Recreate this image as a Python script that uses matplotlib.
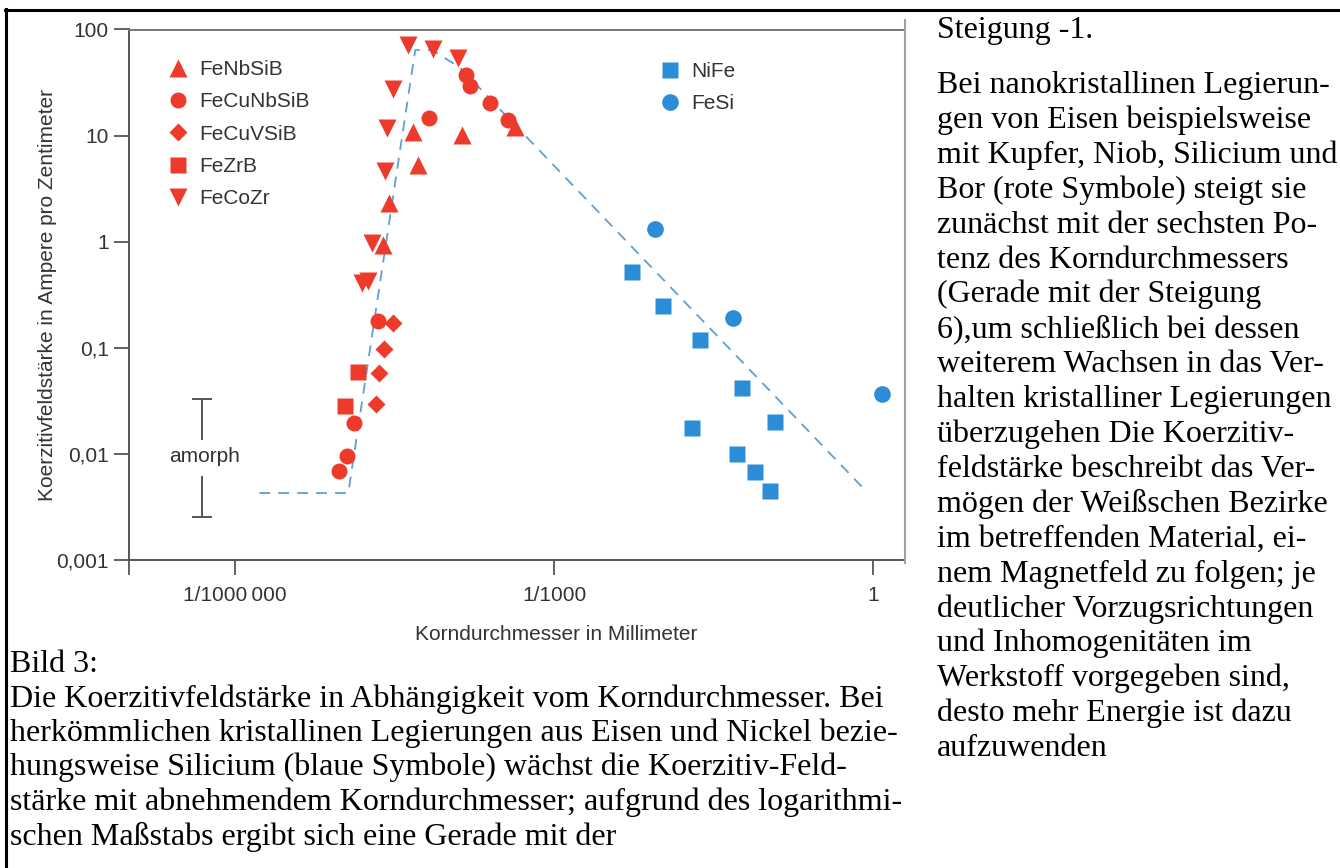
import matplotlib
matplotlib.use('Agg')
import matplotlib.pyplot as plt
from matplotlib.lines import Line2D
from matplotlib.ticker import NullLocator, FixedLocator, FixedFormatter

# ---------------- data ----------------
fenbsib_x = [2.47e-5, 2.81e-5, 4.72e-5, 5.26e-5, 1.36e-4, 4.30e-4]
fenbsib_y = [0.93, 2.32, 10.8, 5.28, 10.1, 12.1]

fecunbsib_x = [6.67e-5, 1.49e-4, 1.62e-4, 2.50e-4, 3.69e-4, 2.21e-5, 1.31e-5, 1.13e-5, 9.5e-6]
fecunbsib_y = [14.7, 37.3, 29.3, 20.3, 14.0, 0.179, 0.0195, 0.00955, 0.0069]

fecuvsib_x = [3.06e-5, 2.52e-5, 2.26e-5, 2.12e-5]
fecuvsib_y = [0.171, 0.0975, 0.0579, 0.0295]

fezrb_x = [1.44e-5, 1.08e-5]
fezrb_y = [0.0591, 0.0283]

fecozr_x = [4.24e-5, 7.28e-5, 1.25e-4, 3.06e-5, 2.69e-5, 2.58e-5, 1.94e-5, 1.56e-5, 1.78e-5]
fecozr_y = [71.4, 65.5, 53.9, 27.5, 11.8, 4.64, 0.97, 0.408, 0.426]

nife_x = [5.42e-3, 0.0106, 0.0236, 0.0586, 0.120, 0.0199, 0.0526, 0.0776, 0.107]
nife_y = [0.518, 0.248, 0.118, 0.0418, 0.0200, 0.0175, 0.00998, 0.00675, 0.00447]

fesi_x = [8.91e-3, 0.0483, 1.22]
fesi_y = [1.32, 0.191, 0.0367]

# guide line (dashed)
guide_x = [1.68e-6, 1.156e-5, 4.93e-5, 7.13e-5, 1.31e-4, 0.789]
guide_y = [0.00428, 0.00428, 64.1, 64.1, 43.4, 0.00488]

# "amorph" range marker
amorph_x = 4.9e-7
amorph_upper = [0.0138, 0.0329]
amorph_lower = [0.00254, 0.00606]

x_ticks = [1e-7, 1e-6, 1e-3, 1.0]
x_ticklabels = ['', '1/1000\u2009000', '1/1000', '1']
y_ticks = [1e-3, 1e-2, 1e-1, 1, 10, 100]
y_ticklabels = ['0,001', '0,01', '0,1', '1', '10', '100']

right_lines = [
    "Bei nanokristallinen Legierun-",
    "gen von Eisen beispielsweise",
    "mit Kupfer, Niob, Silicium und",
    "Bor (rote Symbole) steigt sie",
    "zunächst mit der sechsten Po-",
    "tenz des Korndurchmessers",
    "(Gerade mit der Steigung",
    "6),um schließlich bei dessen",
    "weiterem Wachsen in das Ver-",
    "halten kristalliner Legierungen",
    "überzugehen Die Koerzitiv-",
    "feldstärke beschreibt das Ver-",
    "mögen der Weißschen Bezirke",
    "im betreffenden Material, ei-",
    "nem Magnetfeld zu folgen; je",
    "deutlicher Vorzugsrichtungen",
    "und Inhomogenitäten im",
    "Werkstoff vorgegeben sind,",
    "desto mehr Energie ist dazu",
    "aufzuwenden",
]
caption_lines = [
    "Bild 3:",
    "Die Koerzitivfeldstärke in Abhängigkeit vom Korndurchmesser. Bei",
    "herkömmlichen kristallinen Legierungen aus Eisen und Nickel bezie-",
    "hungsweise Silicium (blaue Symbole) wächst die Koerzitiv-Feld-",
    "stärke mit abnehmendem Korndurchmesser; aufgrund des logarithmi-",
    "schen Maßstabs ergibt sich eine Gerade mit der",
]

# ---------------- styling ----------------
RED = '#ee3a2b'
BLUE = '#2b8dd8'
GUIDE = '#5d9fd6'
AXC = '#555555'
TXT = '#333333'
SANS = ['Liberation Sans', 'DejaVu Sans']
SERIF = ['Liberation Serif', 'DejaVu Serif']

plt.rcParams['font.family'] = SANS

W, H = 1340, 868
fig = plt.figure(figsize=(W / 100, H / 100), dpi=100)
fig.patch.set_facecolor('white')

def fx(px):
    return px / W

def fy(py):
    return 1 - py / H

ax = fig.add_axes([fx(129), fy(560), (903 - 129) / W, (560 - 29.5) / H])
ax.set_xscale('log')
ax.set_yscale('log')
ax.set_xlim(1e-7, 10 ** 0.282)
ax.set_ylim(1e-3, 100)

ax.plot(guide_x, guide_y, color=GUIDE, lw=1.3, dashes=(6, 4.5), zorder=1)

red_handles = []
for xs, ys, m, ms, name in [
    (fenbsib_x, fenbsib_y, '^', 13, 'FeNbSiB'),
    (fecunbsib_x, fecunbsib_y, 'o', 11.5, 'FeCuNbSiB'),
    (fecuvsib_x, fecuvsib_y, 'D', 9.5, 'FeCuVSiB'),
    (fezrb_x, fezrb_y, 's', 11, 'FeZrB'),
    (fecozr_x, fecozr_y, 'v', 13, 'FeCoZr'),
]:
    h, = ax.plot(xs, ys, ls='none', marker=m, ms=ms, color=RED, mec='none',
                 label=name, zorder=3)
    red_handles.append(h)

blue_handles = []
for xs, ys, m, ms, name in [
    (nife_x, nife_y, 's', 11, 'NiFe'),
    (fesi_x, fesi_y, 'o', 12, 'FeSi'),
]:
    h, = ax.plot(xs, ys, ls='none', marker=m, ms=ms, color=BLUE, mec='none',
                 label=name, zorder=3)
    blue_handles.append(h)

# amorph range bars
ax.plot([amorph_x] * 2, amorph_upper, color=AXC, lw=1.4)
ax.plot([amorph_x] * 2, amorph_lower, color=AXC, lw=1.4)
ax.plot([amorph_x], [amorph_upper[1]], marker='_', ms=14, mew=1.4, color=AXC)
ax.plot([amorph_x], [amorph_lower[0]], marker='_', ms=14, mew=1.4, color=AXC)
ax.text(10 ** -6.29, 10 ** -2.029, 'amorph', ha='center', va='center',
        fontsize=15, color=TXT)

# axes styling
for side in ['left', 'bottom', 'top']:
    ax.spines[side].set_color(AXC)
    ax.spines[side].set_linewidth(1.4)
ax.spines['top'].set_color('#777777')
ax.spines['right'].set_visible(False)

ax.xaxis.set_major_locator(FixedLocator(x_ticks))
ax.xaxis.set_major_formatter(FixedFormatter(x_ticklabels))
ax.yaxis.set_major_locator(FixedLocator(y_ticks))
ax.yaxis.set_major_formatter(FixedFormatter(y_ticklabels))
ax.xaxis.set_minor_locator(NullLocator())
ax.yaxis.set_minor_locator(NullLocator())
ax.tick_params(axis='both', direction='out', length=11, width=1.3, color=AXC,
               labelsize=15, labelcolor=TXT)
ax.tick_params(axis='y', pad=3.5)
ax.tick_params(axis='x', pad=8)

ax.set_xlabel('Korndurchmesser in Millimeter', fontsize=15, color=TXT)
ax.xaxis.label.set_va('center')
ax.xaxis.set_label_coords((556 - 129) / (903 - 129), (560 - 634) / (560 - 29.5))
ax.set_ylabel('Koerzitivfeldstärke in Ampere pro Zentimeter', fontsize=15, color=TXT)
ax.yaxis.label.set_va('center')
ax.yaxis.set_label_coords((48 - 129) / (903 - 129), 0.5)

leg1 = ax.legend(handles=red_handles, loc='upper left',
                 bbox_to_anchor=(fx(167.6), fy(60)), bbox_transform=fig.transFigure,
                 frameon=False, borderpad=0, borderaxespad=0, handlelength=1.0,
                 handletextpad=0.5, labelspacing=0.64, fontsize=15,
                 labelcolor=TXT, numpoints=1)
ax.add_artist(leg1)
leg2 = ax.legend(handles=blue_handles, loc='upper left',
                 bbox_to_anchor=(fx(659.6), fy(62)), bbox_transform=fig.transFigure,
                 frameon=False, borderpad=0, borderaxespad=0, handlelength=1.0,
                 handletextpad=0.5, labelspacing=0.64, fontsize=15,
                 labelcolor=TXT, numpoints=1)

# frame lines of the page
fig.add_artist(Line2D([fx(6), fx(6)], [fy(9), 0], transform=fig.transFigure,
                      color='black', lw=2.2))
fig.add_artist(Line2D([fx(5), 1], [fy(10), fy(10)], transform=fig.transFigure,
                      color='black', lw=2.2))
fig.add_artist(Line2D([fx(905), fx(905)], [fy(20), fy(563)], transform=fig.transFigure,
                      color='#a0a0a0', lw=1.5))

# right column text
fig.text(fx(937), fy(38), 'Steigung -1.', family=SERIF, fontsize=23,
         color='black', va='baseline', ha='left')
for i, line in enumerate(right_lines):
    fig.text(fx(937), fy(93 + 34.9 * i), line, family=SERIF, fontsize=23,
             color='black', va='baseline', ha='left')

# caption text
for i, line in enumerate(caption_lines):
    fig.text(fx(10), fy(672 + 34.5 * i), line, family=SERIF, fontsize=23,
             color='black', va='baseline', ha='left')

fig.savefig('out.png', dpi=100, facecolor='white')
